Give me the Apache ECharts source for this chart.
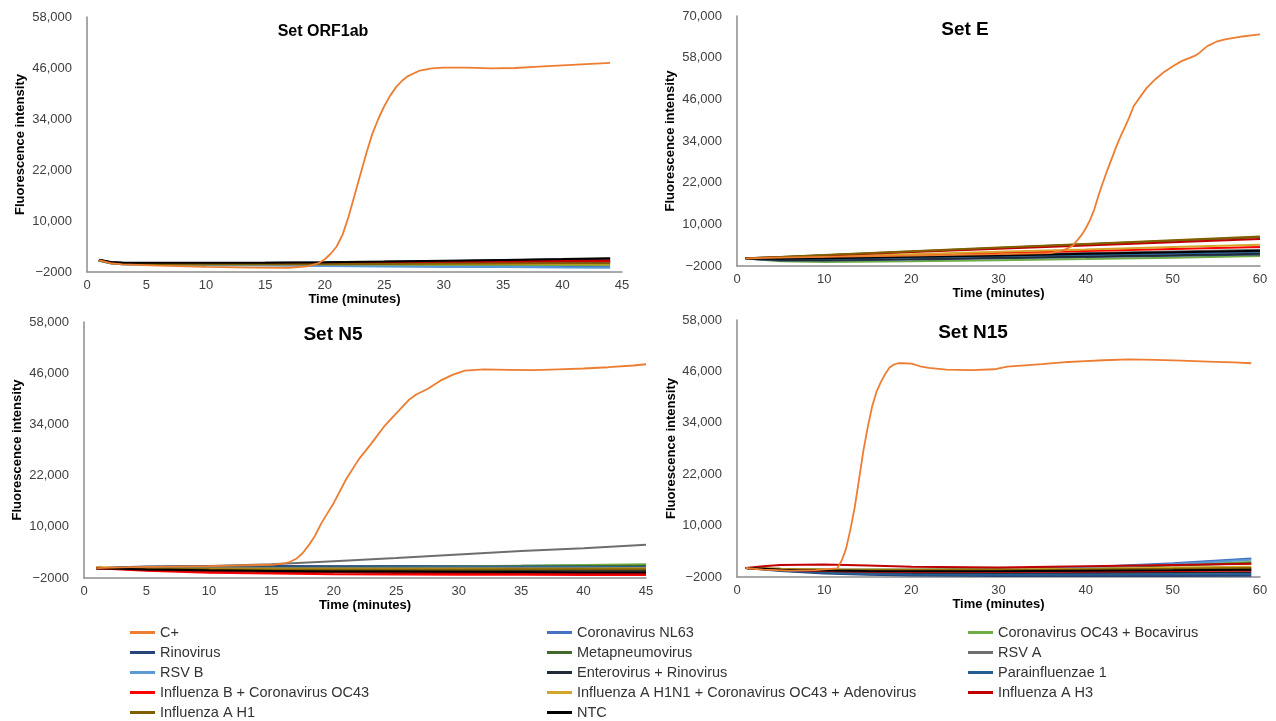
<!DOCTYPE html>
<html>
<head>
<meta charset="utf-8">
<script src="https://cdn.jsdelivr.net/npm/echarts@6/dist/echarts.min.js"></script>
<style>
html,body{margin:0;padding:0;background:#fff;}
#chart{width:1276px;height:721px;}
</style>
</head>
<body>
<div id="chart"></div>
<script>
// ---------- names, colours ----------
const seriesNames = [
  'C+', 'Coronavirus NL63', 'Coronavirus OC43 + Bocavirus',
  'Rinovirus', 'Metapneumovirus', 'RSV A',
  'RSV B', 'Enterovirus + Rinovirus', 'Parainfluenzae 1',
  'Influenza B + Coronavirus OC43', 'Influenza A H1N1 + Coronavirus OC43 + Adenovirus', 'Influenza A H3',
  'Influenza A H1', 'NTC'
];
const seriesColors = [
  '#ED7D31', '#4472C4', '#70AD47',
  '#264478', '#43682B', '#6E6E6E',
  '#5B9BD5', '#222A35', '#255E91',
  '#FF0000', '#D4A52A', '#C00000',
  '#806000', '#000000'
];
const panelTitles = ['Set ORF1ab', 'Set E', 'Set N5', 'Set N15'];

// ---------- tick labels ----------
const xTicks45 = [0, 5, 10, 15, 20, 25, 30, 35, 40, 45];
const xTicks60 = [0, 10, 20, 30, 40, 50, 60];
const yTicks58 = [-2000, 10000, 22000, 34000, 46000, 58000];
const yTicks70 = [-2000, 10000, 22000, 34000, 46000, 58000, 70000];
const yTickText = {'-2000': '\u22122000', '10000': '10,000', '22000': '22,000', '34000': '34,000', '46000': '46,000', '58000': '58,000', '70000': '70,000'};

// ---------- Set ORF1ab ----------
const orfTime = [1, 2, 3, 6, 10, 15, 20, 25, 30, 35, 40, 44];
// order: seriesNames[1..13]
const orfValues = [
  [700, 50, -150, -250, -300, -350, -400, -450, -500, -550, -600, -650],
  [700, 50, -150, -200, -250, -250, -300, -300, -300, -300, -350, -400],
  [800, 250, 100, 50, 50, 100, 200, 300, 450, 600, 800, 950],
  [750, 100, -50, -100, -150, -150, -100, -50, 0, 50, 100, 150],
  [750, 150, 0, -50, -100, -50, 0, 100, 150, 250, 350, 400],
  [700, 0, -200, -300, -400, -500, -600, -700, -800, -850, -950, -1000],
  [850, 300, 150, 100, 100, 150, 250, 400, 550, 750, 950, 1100],
  [750, 150, -50, -100, -100, -100, -50, 0, 100, 150, 250, 300],
  [800, 200, 0, -50, -50, 0, 50, 150, 250, 350, 450, 550],
  [700, 100, -100, -200, -200, -200, -200, -150, -150, -100, -100, -150],
  [800, 200, 50, 0, 0, 50, 100, 200, 300, 450, 600, 700],
  [750, 100, -100, -150, -150, -150, -150, -100, -50, 0, 50, 50],
  [900, 350, 200, 150, 150, 200, 300, 450, 650, 850, 1050, 1250]
];
const orfCTime = [1, 2, 3, 6, 10, 14, 17, 18.5, 19.5, 20, 20.5, 21, 21.5, 22, 22.5, 23, 23.5, 24, 24.5, 25, 25.5, 26, 26.5, 27, 28, 29, 30, 32, 34, 36, 38, 40, 42, 44];
const orfC = [800, 100, -200, -500, -800, -950, -1000, -700, 100, 1000, 2300, 4000, 6800, 11000, 16000, 21000, 26000, 30500, 34000, 37000, 39500, 41500, 43000, 44100, 45400, 45900, 46100, 46100, 45900, 46000, 46300, 46600, 46900, 47200];

// ---------- Set E ----------
const eTime = [1, 2, 5, 10, 20, 30, 40, 50, 60];
const eValues = [
  [200, 50, -100, 0, 350, 700, 1100, 1500, 1900],
  [200, -50, -600, -850, -650, -350, 0, 400, 850],
  [200, 0, -400, -400, -100, 250, 600, 950, 1300],
  [250, 300, 600, 1100, 2200, 3200, 4250, 5300, 6300],
  [200, 150, 200, 350, 800, 1250, 1750, 2200, 2700],
  [200, 50, -200, -150, 200, 550, 950, 1300, 1700],
  [200, 0, -300, -250, 50, 400, 750, 1100, 1500],
  [200, 100, 0, 100, 450, 850, 1250, 1700, 2100],
  [200, 200, 350, 600, 1150, 1750, 2350, 2900, 3500],
  [200, 250, 400, 700, 1400, 2100, 2750, 3450, 4100],
  [250, 300, 550, 1050, 2000, 2950, 3900, 4850, 5800],
  [250, 300, 600, 1150, 2250, 3300, 4350, 5450, 6500],
  [200, 100, 100, 250, 650, 1050, 1500, 1950, 2400]
];
const eCTime = [1, 5, 10, 20, 30, 36, 37.5, 38.5, 39, 39.5, 40, 40.5, 41, 41.5, 42, 42.5, 43, 43.5, 44, 44.5, 45, 45.5, 46, 47, 48, 49, 50, 51, 52, 52.5, 53, 53.5, 54, 55, 56, 57, 58, 59, 60];
const eC = [200, 400, 600, 1000, 1400, 1700, 2600, 3800, 5300, 6800, 8800, 11200, 14400, 18500, 22200, 25700, 29000, 32300, 35300, 38000, 40800, 44000, 45800, 49300, 51800, 53900, 55500, 57000, 58000, 58500, 59300, 60400, 61400, 62600, 63300, 63700, 64100, 64400, 64700];

// ---------- Set N5 ----------
const n5Time = [1, 3, 5, 10, 15, 20, 25, 30, 35, 40, 45];
const n5Values = [
  [300, 450, 600, 700, 700, 700, 750, 800, 850, 950, 1000],
  [300, 400, 450, 500, 500, 550, 650, 750, 900, 1050, 1200],
  [300, 500, 700, 800, 800, 750, 750, 700, 700, 700, 700],
  [300, 350, 400, 400, 400, 450, 500, 550, 650, 750, 850],
  [300, 400, 500, 800, 1200, 1950, 2700, 3500, 4300, 5000, 5800],
  [300, 300, 300, 300, 300, 350, 400, 450, 500, 550, 600],
  [300, 200, 50, -100, -200, -250, -250, -250, -250, -250, -250],
  [300, 350, 400, 450, 450, 450, 450, 450, 500, 500, 550],
  [300, 0, -300, -750, -950, -1100, -1200, -1250, -1250, -1300, -1300],
  [600, 350, 250, 200, 200, 200, 200, 250, 250, 250, 300],
  [300, 100, -100, -400, -600, -700, -800, -850, -900, -950, -1000],
  [400, 250, 150, 50, 0, 0, 0, 0, 50, 50, 50],
  [300, 150, 0, -200, -350, -450, -500, -550, -600, -650, -650]
];
const n5CTime = [1, 3, 5, 10, 15, 16, 16.5, 17, 17.5, 18, 18.5, 19, 19.5, 20, 21, 22, 23, 24, 25, 26, 26.6, 27.5, 28.5, 29.5, 30.5, 32, 34, 36, 38, 40, 42, 44, 45];
const n5C = [300, 500, 600, 800, 1100, 1400, 1800, 2500, 3800, 5700, 7900, 10800, 13200, 15600, 21200, 25800, 29500, 33400, 36600, 39700, 41000, 42300, 44200, 45600, 46600, 46900, 46800, 46700, 46900, 47100, 47400, 47800, 48100];

// ---------- Set N15 ----------
const n15Time = [1, 3, 5, 10, 15, 20, 30, 40, 50, 59];
const n15Values = [
  [100, -100, -300, -500, -600, -550, -300, 300, 1200, 2300],
  [100, -50, -200, -350, -400, -400, -250, 200, 800, 1500],
  [100, -250, -600, -1200, -1500, -1650, -1750, -1750, -1750, -1700],
  [100, 0, -100, -200, -250, -250, -150, 200, 700, 1200],
  [100, -50, -200, -400, -500, -550, -500, -400, -250, -100],
  [100, -100, -300, -500, -600, -600, -350, 200, 1000, 2000],
  [100, -150, -400, -800, -1000, -1100, -1100, -1050, -1000, -900],
  [100, -200, -500, -1000, -1300, -1400, -1450, -1400, -1350, -1300],
  [100, -100, -300, -600, -700, -750, -750, -700, -600, -500],
  [100, 0, -100, -250, -300, -300, -250, -50, 200, 400],
  [100, 500, 800, 900, 700, 400, 200, 500, 800, 1100],
  [100, -50, -200, -400, -450, -450, -400, -250, -100, 100],
  [100, -100, -300, -500, -600, -650, -650, -550, -450, -300]
];
const n15CTime = [1, 3, 6, 9, 11.5, 12, 12.5, 13, 13.5, 14, 14.5, 15, 15.5, 16, 16.5, 17, 17.5, 18, 18.5, 19, 20, 21, 22, 24, 27, 29.5, 31, 33, 35, 38, 40, 42, 45, 48, 51, 54, 57, 59];
const n15C = [100, -300, -500, -400, 0, 1800, 4500, 9000, 14200, 20800, 27500, 33000, 37800, 41200, 43500, 45400, 46900, 47600, 47900, 47900, 47800, 47200, 46800, 46400, 46300, 46500, 47100, 47400, 47700, 48200, 48400, 48600, 48800, 48700, 48500, 48300, 48100, 47900];

// ---------- layout ----------
const FONT = 'Liberation Sans, Arial, sans-serif';
const grids = [
  {left: 87, top: 17, width: 535, height: 255},
  {left: 737, top: 16, width: 523, height: 250},
  {left: 84, top: 322, width: 562, height: 256},
  {left: 737, top: 320, width: 523, height: 257}
];
const xCfg = [{max: 45, interval: 5}, {max: 60, interval: 10}, {max: 45, interval: 5}, {max: 60, interval: 10}];
const yCfg = [{max: 58000, ticks: yTicks58}, {max: 70000, ticks: yTicks70}, {max: 58000, ticks: yTicks58}, {max: 58000, ticks: yTicks58}];
const yNameGaps = [60, 60, 60, 56];

const xAxes = xCfg.map((c, i) => ({
  type: 'value', gridIndex: i, min: 0, max: c.max, interval: c.interval,
  axisLine: {show: true, onZero: false, lineStyle: {color: '#8c8c8c', width: 1.5}},
  axisTick: {show: false}, splitLine: {show: false},
  axisLabel: {color: '#404040', fontSize: 13, margin: 7, fontFamily: FONT},
  name: 'Time (minutes)', nameLocation: 'middle', nameGap: 21,
  nameTextStyle: {fontWeight: 'bold', fontSize: 13, color: '#000', fontFamily: FONT}
}));
const yAxes = yCfg.map((c, i) => ({
  type: 'value', gridIndex: i, min: -2000, max: c.max,
  axisLine: {show: true, lineStyle: {color: '#8c8c8c', width: 1.5}},
  axisTick: {show: false}, splitLine: {show: false},
  axisLabel: {customValues: c.ticks, color: '#404040', fontSize: 13, margin: 15, fontFamily: FONT,
    formatter: v => yTickText[String(v)] !== undefined ? yTickText[String(v)] : String(v)},
  name: 'Fluorescence intensity', nameLocation: 'middle', nameGap: yNameGaps[i],
  nameTextStyle: {fontWeight: 'bold', fontSize: 13, color: '#000', fontFamily: FONT}
}));

const series = [];
function addPanel(idx, baseTime, baseValues, cTime, cValues) {
  baseValues.forEach((vals, k) => {
    series.push({
      name: seriesNames[k + 1], type: 'line', xAxisIndex: idx, yAxisIndex: idx,
      data: baseTime.map((t, j) => [t, vals[j]]),
      symbol: 'none', showSymbol: false, color: seriesColors[k + 1],
      lineStyle: {width: 2, color: seriesColors[k + 1]}, z: 2
    });
  });
  series.push({
    name: seriesNames[0], type: 'line', xAxisIndex: idx, yAxisIndex: idx,
    data: cTime.map((t, j) => [t, cValues[j]]),
    symbol: 'none', showSymbol: false, color: seriesColors[0],
    lineStyle: {width: 1.8, color: seriesColors[0]}, z: 3
  });
}
addPanel(0, orfTime, orfValues, orfCTime, orfC);
addPanel(1, eTime, eValues, eCTime, eC);
addPanel(2, n5Time, n5Values, n5CTime, n5C);
addPanel(3, n15Time, n15Values, n15CTime, n15C);

const legendCols = [
  [0, 3, 6, 9, 12],
  [1, 4, 7, 10, 13],
  [2, 5, 8, 11]
];
const legendLeft = [130, 547, 968];
const legends = legendCols.map((col, i) => ({
  orient: 'vertical', left: legendLeft[i], top: 625, height: 120, padding: 0,
  data: col.map(k => seriesNames[k]),
  icon: 'rect', itemWidth: 25, itemHeight: 3, itemGap: 5,
  textStyle: {fontSize: 14.5, lineHeight: 14, color: '#333', fontFamily: FONT},
  selectedMode: true
}));

const titlePos = [[323, 32], [965, 30], [333, 335], [973, 333]];
const titleSizes = [16, 19, 19, 19];
const graphics = panelTitles.map((t, i) => ({
  type: 'text', x: titlePos[i][0], y: titlePos[i][1],
  style: {text: t, fontSize: titleSizes[i], fontWeight: 'bold', fontFamily: FONT, fill: '#000', align: 'center', verticalAlign: 'middle'}
}));

const chart = echarts.init(document.getElementById('chart'));
chart.setOption({
  backgroundColor: '#fff',
  animation: false,
  grid: grids,
  xAxis: xAxes,
  yAxis: yAxes,
  legend: legends,
  graphic: graphics,
  series: series
});
</script>
</body>
</html>
